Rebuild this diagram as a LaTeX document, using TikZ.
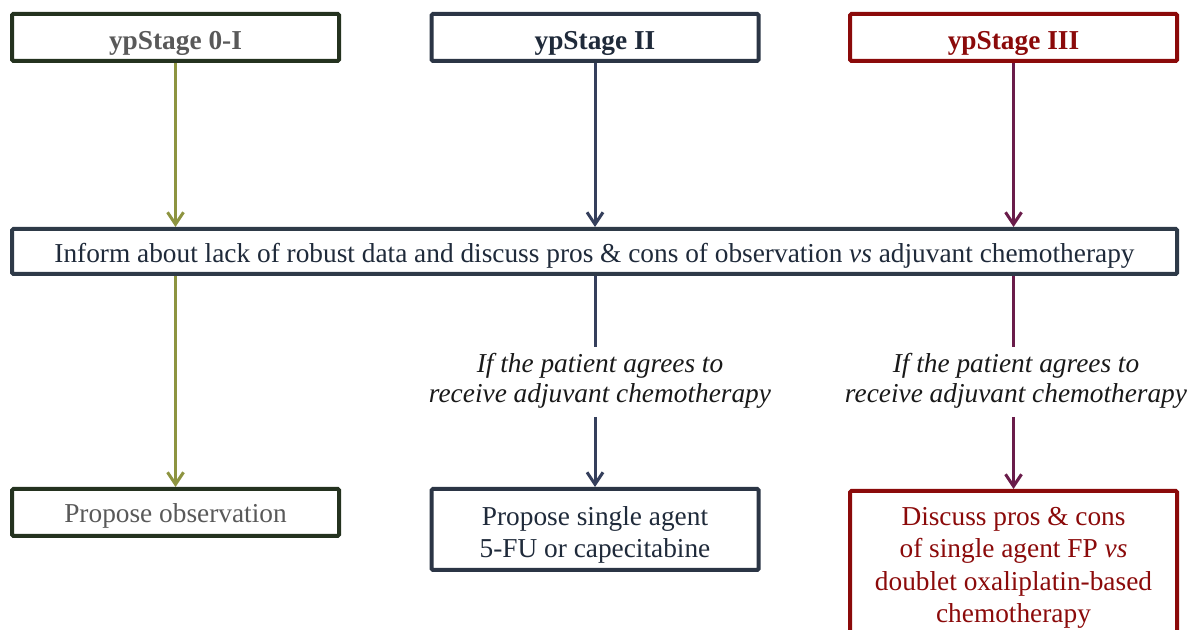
\documentclass[tikz,border=0pt]{standalone}
\usepackage{fontspec}
\setmainfont{Liberation Serif}
\usetikzlibrary{arrows.meta}
\definecolor{gtext}{HTML}{595959}
\definecolor{ntext}{HTML}{1F2A3A}
\definecolor{rtext}{HTML}{8B0A0A}
\definecolor{gborder}{HTML}{24321F}
\definecolor{nborder}{HTML}{2B3545}
\definecolor{iborder}{HTML}{2E3A48}
\definecolor{olivearr}{HTML}{8D9440}
\definecolor{navyarr}{HTML}{353F5C}
\definecolor{purparr}{HTML}{6A1C4A}
\tikzset{
  box/.style={draw, line width=3pt, rounded corners=1pt, fill=white, inner sep=0pt,
    minimum width=327*0.75pt, align=center, font=\fontsize{20.5}{24.4}\selectfont},
  stagebox/.style={box, minimum height=47*0.75pt, text height=22.6pt, text depth=4.5pt,
    font=\fontsize{20.5}{24.4}\selectfont\bfseries},
  conn/.style={line width=2.25pt, -{Straight Barb[length=9pt,width=12pt,line width=2.25pt]}},
  plain/.style={line width=2.25pt},
  lbl/.style={align=center, font=\fontsize{20.5}{22.5}\selectfont\itshape, text=black!90, inner sep=0pt}
}
\begin{document}
\begin{tikzpicture}[x=0.75pt,y=-0.75pt]
\useasboundingbox (0,0) rectangle (1189,630);
\clip (0,0) rectangle (1189,630);
% top stage boxes
\node[stagebox, draw=gborder, text=gtext] (s1) at (175.5,37.5) {ypStage 0-I};
\node[stagebox, draw=nborder, text=ntext] (s2) at (595,37.5) {ypStage II};
\node[stagebox, draw=rtext, text=rtext] (s3) at (1013.5,37.5) {ypStage III};
% information box
\node[box, draw=iborder, text=ntext, minimum width=1165*0.75pt, minimum height=45*0.75pt,
  text height=21.1pt, text depth=4.5pt] (inf) at (594.5,251.5)
  {Inform about lack of robust data and discuss pros \& cons of observation \textit{vs} adjuvant chemotherapy};
% conditional labels
\node[lbl] (l2) at (600,381) {If the patient agrees to\\receive adjuvant chemotherapy};
\node[lbl] (l3) at (1016,381) {If the patient agrees to\\receive adjuvant chemotherapy};
% bottom boxes
\node[box, draw=gborder, text=gtext, minimum height=47*0.75pt, text height=19.6pt, text depth=4.5pt]
  (b1) at (175.5,512.5) {Propose observation};
\node[box, draw=nborder, text=ntext, minimum height=81*0.75pt, text height=47pt]
  (b2) at (595,529.5) {Propose single agent\\5-FU or capecitabine};
\node[box, draw=rtext, text=rtext, minimum height=154*0.75pt, anchor=north] (b3) at (1013.5,489)
  {Discuss pros \& cons\\of single agent FP \textit{vs}\\doublet oxaliplatin-based\\chemotherapy};
% connectors
\draw[conn, draw=olivearr] (s1.south) -- (s1.south |- inf.north);
\draw[conn, draw=navyarr] (s2.south) -- (s2.south |- inf.north);
\draw[conn, draw=purparr] (s3.south) -- (s3.south |- inf.north);
\draw[conn, draw=olivearr] (s1.south |- inf.south) -- (b1.north);
\draw[plain, draw=navyarr] (s2.south |- inf.south) -- ([yshift=6*0.75pt]s2.south |- l2.north);
\draw[conn, draw=navyarr] ([yshift=-8*0.75pt]s2.south |- l2.south) -- (b2.north);
\draw[plain, draw=purparr] (s3.south |- inf.south) -- ([yshift=6*0.75pt]s3.south |- l3.north);
\draw[conn, draw=purparr] ([yshift=-8*0.75pt]s3.south |- l3.south) -- (b3.north);
\end{tikzpicture}
\end{document}
